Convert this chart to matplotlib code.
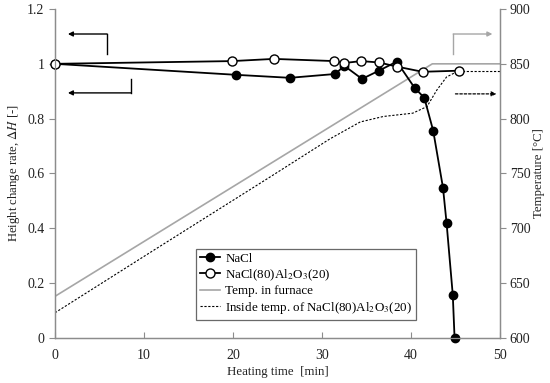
import numpy as np
import matplotlib.pyplot as plt

plt.rcParams["font.family"] = ["Liberation Serif", "DejaVu Serif"]
plt.rcParams["mathtext.fontset"] = "stix"

# NaCl height change rate
nacl_t = [0, 20.3, 26.4, 31.5, 32.5, 34.5, 36.4, 38.4, 40.4, 41.5, 42.5, 43.6, 44.0, 44.7, 44.9]
nacl_h = [1.0, 0.96, 0.949, 0.963, 0.993, 0.945, 0.975, 1.008, 0.913, 0.876, 0.756, 0.548, 0.42, 0.157, 0.0]

# NaCl(80)Al2O3(20) height change rate
mix_t = [0, 19.9, 24.6, 31.4, 32.5, 34.4, 36.4, 38.4, 41.3, 45.4]
mix_h = [1.0, 1.01, 1.018, 1.01, 1.003, 1.01, 1.005, 0.99, 0.971, 0.975]

# furnace temperature
furn_t = [0, 42.4, 50]
furn_T = [638, 850, 850]

# inside temperature of NaCl(80)Al2O3(20)
in_t = [0, 10.7, 24.2, 30.9, 34.3, 36.9, 40.2, 41.8, 42.9, 44.0, 45.2, 50]
in_T = [623, 678, 747, 781.6, 797, 802, 805, 811, 826, 838, 843, 843]

gray = "#a6a6a6"
spine = "#8c8c8c"
txt = "#222222"

fig = plt.figure(figsize=(5.5, 3.83), dpi=100)
ax = fig.add_axes([0.1, 0.1175, 0.809, 0.859])
ax2 = ax.twinx()

ax2.plot(furn_t, furn_T, "-", color=gray, lw=1.2, label="Temp. in furnace")
ax2.plot(in_t, in_T, "--", color="black", lw=0.8, dashes=(2, 1.5),
         label="Inside temp. of NaCl(80)Al$_2$O$_3$(20)")

ax.set_zorder(ax2.get_zorder() + 1)
ax.patch.set_visible(False)
ax.plot(nacl_t, nacl_h, "-o", color="black", lw=1.3, ms=6, mfc="black",
        label="NaCl", clip_on=False)
ax.plot(mix_t, mix_h, "-o", color="black", lw=1.3, ms=6.5, mfc="white",
        label="NaCl(80)Al$_2$O$_3$(20)", clip_on=False)

ax.set_xlim(0, 50)
ax.set_ylim(0, 1.2)
ax2.set_ylim(600, 900)
ax.set_xticks([0, 10, 20, 30, 40, 50])
ax.set_yticks([0, 0.2, 0.4, 0.6, 0.8, 1.0, 1.2])
ax.set_yticklabels(["0", "0.2", "0.4", "0.6", "0.8", "1", "1.2"])
ax2.set_yticks([600, 650, 700, 750, 800, 850, 900])

for a in (ax, ax2):
    for s in a.spines.values():
        s.set_color(spine)
        s.set_linewidth(0.9)
    a.tick_params(labelsize=10, colors=spine, labelcolor=txt, length=4)
ax.tick_params(axis="x", direction="in", pad=8)
ax.tick_params(axis="y", direction="out")
ax2.tick_params(axis="y", direction="out", pad=3)
ax.spines["top"].set_visible(False)
ax2.spines["top"].set_visible(False)

ax.set_xlabel("Heating time  [min]", fontsize=9.3, color=txt, labelpad=3)
ax.set_ylabel("Height change rate, $\\mathit{\\Delta H}$ [-]", fontsize=9.2,
              color=txt, labelpad=4)
ax2.set_ylabel("Temperature [\u00b0C]", fontsize=9.2, color=txt, labelpad=2)

# axis indicator arrows
def bent_arrow(x0, y0, xc, yc, x1, y1, color, ls="-"):
    ax.plot([x0, xc], [y0, yc], color=color, lw=1.0, ls=ls,
            transform=ax.transAxes, clip_on=False)
    ax.annotate("", xy=(x1, y1), xytext=(xc, yc), xycoords="axes fraction",
                arrowprops=dict(arrowstyle="-|>", color=color, lw=1.0, ls=ls,
                                mutation_scale=7, shrinkA=0, shrinkB=0))

bent_arrow(0.117, 0.862, 0.117, 0.924, 0.029, 0.924, "black")
bent_arrow(0.171, 0.788, 0.171, 0.745, 0.029, 0.745, "black")
bent_arrow(0.895, 0.862, 0.895, 0.924, 0.983, 0.924, gray)
ax.annotate("", xy=(0.992, 0.742), xytext=(0.9, 0.742), xycoords="axes fraction",
            arrowprops=dict(arrowstyle="-|>", color="black", lw=0.9, ls=(0, (2, 1.5)),
                            mutation_scale=7, shrinkA=0, shrinkB=0))

h1, l1 = ax.get_legend_handles_labels()
h2, l2 = ax2.get_legend_handles_labels()
leg = ax.legend(h1 + h2, l1 + l2, loc="lower left", bbox_to_anchor=(0.318, 0.055),
                fontsize=9.4, frameon=True, fancybox=False, handlelength=1.5,
                handletextpad=0.4, borderpad=0.3, labelspacing=0.2,
                borderaxespad=0)
leg.get_frame().set_edgecolor("#444444")
leg.get_frame().set_linewidth(0.9)

fig.savefig("out.png", dpi=100)
